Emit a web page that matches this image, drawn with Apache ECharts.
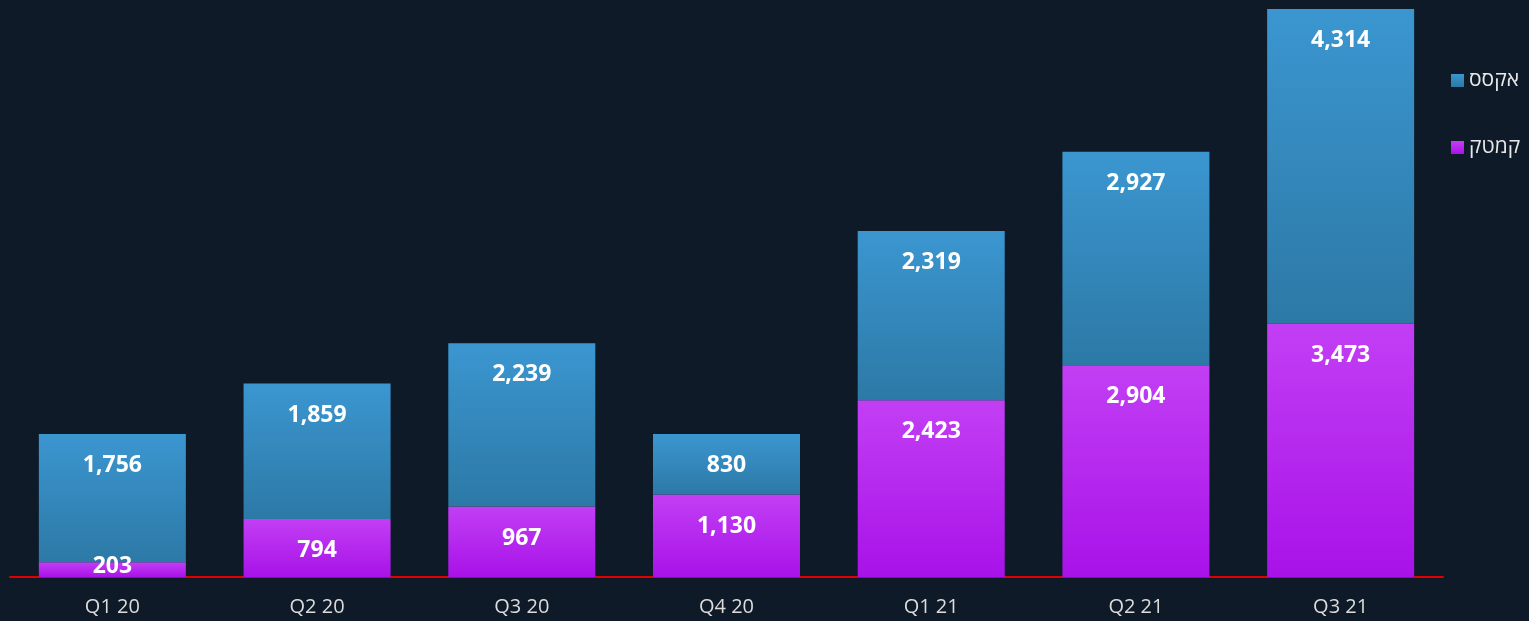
<!DOCTYPE html>
<html>
<head>
<meta charset="utf-8">
<script src="https://cdn.jsdelivr.net/npm/echarts@6/dist/echarts.min.js"></script>
<style>
  html, body { margin: 0; padding: 0; background: #0e1a28; }
  #chart { width: 1529px; height: 621px; }
</style>
</head>
<body>
<div id="chart"></div>
<script>
// quarters
const quarters = ["Q1 20", "Q2 20", "Q3 20", "Q4 20", "Q1 21", "Q2 21", "Q3 21"];
// bottom stack (purple)
const kamtekValues = [203, 794, 967, 1130, 2423, 2904, 3473];
// top stack (blue)
const axesValues = [1756, 1859, 2239, 830, 2319, 2927, 4314];

const fontFamily = "'Open Sans', 'DejaVu Sans', sans-serif";

function grad(top, bottom) {
  return new echarts.graphic.LinearGradient(0, 0, 0, 1, [
    { offset: 0, color: top },
    { offset: 1, color: bottom }
  ]);
}

// small segments get their label centred instead of pinned to the top
function toData(values) {
  return values.map(v => v < 500
    ? { value: v, label: { position: "inside", offset: [0, -3] } }
    : v);
}

const valueLabel = {
  show: true,
  position: "insideTop",
  distance: 20,
  color: "#ffffff",
  fontSize: 23,
  fontWeight: "bold",
  fontFamily: fontFamily,
  formatter: p => p.value.toLocaleString("en-US")
};

const chart = echarts.init(document.getElementById("chart"));
chart.setOption({
  backgroundColor: "#0e1a28",
  animation: false,
  grid: { left: 10, right: 86, top: 9, bottom: 44 },
  legend: {
    orient: "vertical",
    left: 1451,
    top: 70,
    padding: 0,
    icon: "rect",
    itemWidth: 13,
    itemHeight: 13,
    itemGap: 46,
    data: ["אקסס", "קמטק"],
    textStyle: { color: "#e8e8e8", fontSize: 21, fontFamily: fontFamily }
  },
  xAxis: {
    type: "category",
    data: quarters,
    axisLine: { lineStyle: { color: "#e00000", width: 2 } },
    axisTick: { show: false },
    axisLabel: { color: "#dcdcdc", fontSize: 20, fontFamily: fontFamily, margin: 20 }
  },
  yAxis: {
    type: "value",
    min: 0,
    max: 7787,
    show: false,
    splitLine: { show: false }
  },
  series: [
    {
      name: "קמטק",
      type: "bar",
      stack: "total",
      barWidth: 147,
      data: toData(kamtekValues),
      itemStyle: { color: grad("#c23ff4", "#a812e8") },
      label: valueLabel
    },
    {
      name: "אקסס",
      type: "bar",
      stack: "total",
      barWidth: 147,
      data: toData(axesValues),
      itemStyle: { color: grad("#3b96d0", "#2c79a6") },
      label: valueLabel
    }
  ]
});
</script>
</body>
</html>
